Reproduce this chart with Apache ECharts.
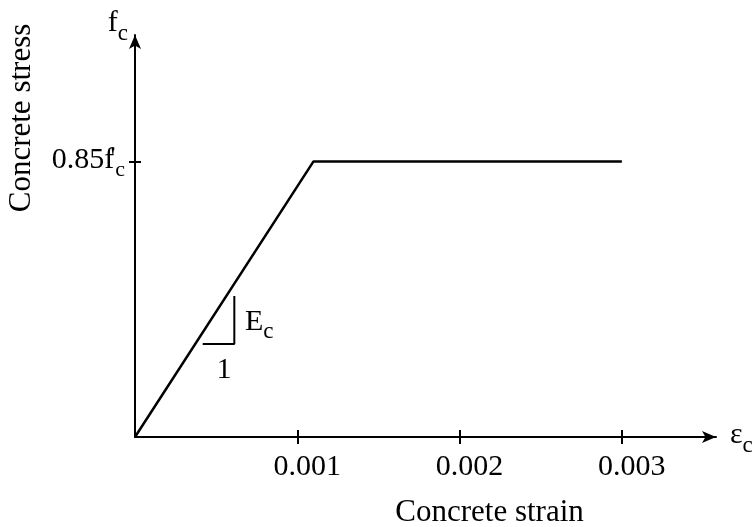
<!DOCTYPE html>
<html>
<head>
<meta charset="utf-8">
<script src="https://cdn.jsdelivr.net/npm/echarts@6/dist/echarts.min.js"></script>
<style>
  html, body { margin: 0; padding: 0; background: #fff; }
  #chart { width: 756px; height: 527px; }
</style>
</head>
<body>
<div id="chart"></div>
<script>
// stress-strain curve (idealized)
const strain = [0, 0.0011, 0.003];
const stress = [0, 0.85, 0.85];

// axis ticks
const xTicks = [0.001, 0.002, 0.003];
const xTickLabels = ['0.001', '0.002', '0.003'];
const yTicks = [0.85];

// slope triangle
const slopeX = [0.000417, 0.000612, 0.000612];
const slopeY = [0.287, 0.287, 0.435];

// annotation texts at data positions
const noteX = [0.000765, 0.000549];
const noteY = [0.349, 0.2];
const noteText = ['{m|E}{s|c}', '{m|1}'];

const serif = 'Liberation Serif';
const black = '#000';

const rich = {
  m: { fontFamily: serif, fontSize: 30, color: black, lineHeight: 34, verticalAlign: 'top' },
  s: { fontFamily: serif, fontSize: 23, color: black, lineHeight: 23, padding: [14, 0, 0, 0], verticalAlign: 'top' },
  ym: { fontFamily: serif, fontSize: 30, color: black, lineHeight: 32, verticalAlign: 'top' },
  yp: { fontFamily: serif, fontSize: 26, color: black, lineHeight: 32, verticalAlign: 'top', width: 1 },
  ys: { fontFamily: serif, fontSize: 22, color: black, lineHeight: 22, padding: [14, 0, 0, 0], verticalAlign: 'top' }
};

const chart = echarts.init(document.getElementById('chart'));

const axisLine = {
  onZero: false,
  symbol: ['none', 'arrow'],
  symbolSize: [9, 14],
  lineStyle: { color: black, width: 2 }
};

const option = {
  animation: false,
  backgroundColor: '#fff',
  grid: { left: 135, right: 40, top: 35, bottom: 90, containLabel: false, outerBoundsMode: 'none' },
  xAxis: [
    {
      type: 'value',
      position: 'bottom',
      min: 0,
      max: 0.00358,
      name: '{m|ε}{s|c}',
      nameLocation: 'end',
      nameGap: 14,
      nameTextStyle: { align: 'left', verticalAlign: 'middle', rich: rich },
      axisLine: axisLine,
      axisTick: { show: true, length: 7, customValues: xTicks, lineStyle: { color: black, width: 2 } },
      axisLabel: {
        customValues: xTicks,
        margin: 15,
        padding: [0, 0, 0, 20],
        fontFamily: serif,
        fontSize: 30,
        color: black,
        formatter: v => xTickLabels[xTicks.findIndex(t => Math.abs(t - v) < 1e-9)] || ''
      },
      splitLine: { show: false }
    },
    {
      type: 'value',
      position: 'bottom',
      min: 0,
      max: 0.00358,
      name: 'Concrete strain',
      nameLocation: 'middle',
      nameGap: 60,
      nameTextStyle: { fontFamily: serif, fontSize: 31, color: black, padding: [0, 0, 0, 128] },
      axisLine: { show: false, onZero: false },
      axisTick: { show: true, inside: true, length: 7, customValues: xTicks, lineStyle: { color: black, width: 2 } },
      axisLabel: { show: false },
      splitLine: { show: false }
    }
  ],
  yAxis: [
    {
      type: 'value',
      position: 'left',
      min: 0,
      max: 1.24,
      name: '{m|f}{s|c}',
      nameLocation: 'end',
      nameGap: 10,
      nameTextStyle: { align: 'right', verticalAlign: 'middle', padding: [0, 7, 0, 0], rich: rich },
      axisLine: axisLine,
      axisTick: { show: true, length: 6, customValues: yTicks, lineStyle: { color: black, width: 2 } },
      axisLabel: {
        customValues: yTicks,
        margin: 10,
        formatter: () => '{ym|0.85f}{yp|\'}{ys|c}',
        rich: rich
      },
      splitLine: { show: false }
    },
    {
      type: 'value',
      position: 'left',
      min: 0,
      max: 1.24,
      name: 'Concrete stress',
      nameLocation: 'middle',
      nameGap: 98,
      nameTextStyle: { fontFamily: serif, fontSize: 31, color: black, padding: [0, 0, 0, 236] },
      axisLine: { show: false, onZero: false },
      axisTick: { show: true, inside: true, length: 6, customValues: yTicks, lineStyle: { color: black, width: 2 } },
      axisLabel: { show: false },
      splitLine: { show: false }
    }
  ],
  series: [
    {
      type: 'line',
      xAxisIndex: 0,
      yAxisIndex: 0,
      data: strain.map((x, i) => [x, stress[i]]),
      symbol: 'none',
      silent: true,
      lineStyle: { color: black, width: 2.5 }
    },
    {
      type: 'line',
      xAxisIndex: 0,
      yAxisIndex: 0,
      data: slopeX.map((x, i) => [x, slopeY[i]]),
      symbol: 'none',
      silent: true,
      lineStyle: { color: black, width: 2 }
    },
    {
      type: 'scatter',
      xAxisIndex: 0,
      yAxisIndex: 0,
      symbolSize: 0,
      silent: true,
      itemStyle: { opacity: 1, color: black },
      data: noteX.map((x, i) => ({ value: [x, noteY[i]], label: { formatter: noteText[i] } })),
      label: { show: true, position: 'inside', color: black, rich: rich }
    }
  ]
};

chart.setOption(option);
window.addEventListener('resize', () => {
  chart && chart.resize();
});
</script>
</body>
</html>
